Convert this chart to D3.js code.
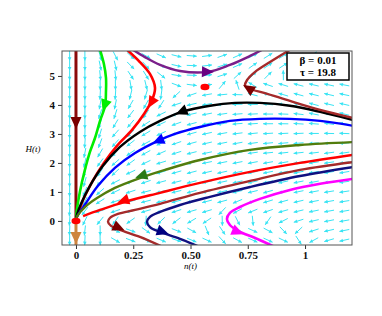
<!DOCTYPE html>
<html>
<head>
<meta charset="utf-8">
<script src="https://cdn.jsdelivr.net/npm/d3@7"></script>
<style>
body { margin: 0; background: #fff; }
svg { display: block; }
</style>
</head>
<body>
<div id="chart"></div>
<script>
// phase portrait n(t), H(t)
var width = 382, height = 316;
var margin = {top: 51, left: 62, right: 30, bottom: 71};

var xDomain = [-0.061, 1.205];
var yDomain = [-0.83, 5.86];
var xTicks = [0, 0.25, 0.5, 0.75, 1];
var xTickLabels = ['0', '0.25', '0.50', '0.75', '1'];
var yTicks = [0, 1, 2, 3, 4, 5];
var paramLabels = ['\u03b2 = 0.01', '\u03c4 = 19.8'];
var equilibria = [[0, 0], [0.563, 4.62]];

// trajectories, listed in the direction of motion
var maroonPath = [[0, 5.9], [0, 0.05]];
var orangePath = [[0, -0.1], [0, -0.9]];
var greenPath = [[0.105, 5.9], [0.122, 5.41], [0.131, 4.93], [0.131, 4.48], [0.127, 3.97], [0.105, 3.45],
  [0.083, 2.86], [0.061, 2.38], [0.039, 1.76], [0.017, 1.0], [0.004, 0.38], [0, 0.07]];
var redTopPath = [[0.223, 5.9], [0.279, 5.48], [0.323, 5.07], [0.345, 4.59], [0.332, 4.17], [0.297, 3.69],
  [0.245, 3.14], [0.179, 2.59], [0.122, 2.0], [0.070, 1.34], [0.031, 0.72], [0.009, 0.24], [0, 0.07]];
var blackPath = [[1.21, 3.48], [1.066, 3.76], [0.934, 3.97], [0.803, 4.07], [0.694, 4.07], [0.585, 3.97],
  [0.463, 3.76], [0.367, 3.45], [0.279, 3.07], [0.192, 2.55], [0.118, 1.90], [0.061, 1.21], [0.022, 0.59],
  [0.004, 0.21], [0, 0.07]];
var bluePath = [[1.21, 3.28], [1.066, 3.45], [0.934, 3.52], [0.803, 3.52], [0.672, 3.45], [0.541, 3.24],
  [0.432, 3.0], [0.358, 2.76], [0.258, 2.34], [0.170, 1.83], [0.096, 1.21], [0.044, 0.62], [0.009, 0.21], [0, 0.07]];
var olivePath = [[1.21, 2.72], [0.978, 2.62], [0.760, 2.45], [0.541, 2.10], [0.389, 1.76], [0.279, 1.48],
  [0.170, 1.14], [0.092, 0.79], [0.039, 0.48], [0.009, 0.21], [0, 0.07]];
var redLowPath = [[1.21, 2.28], [0.978, 2.0], [0.760, 1.69], [0.541, 1.31], [0.367, 0.97], [0.214, 0.66],
  [0.105, 0.38], [0.031, 0.17]];
var brownLowPath = [[1.21, 2.03], [0.978, 1.76], [0.760, 1.38], [0.541, 0.97], [0.367, 0.59], [0.258, 0.38],
  [0.183, 0.24], [0.148, 0.10], [0.140, -0.03], [0.153, -0.17], [0.192, -0.31], [0.279, -0.55], [0.380, -0.9]];
var navyPath = [[1.21, 1.86], [0.978, 1.55], [0.760, 1.17], [0.585, 0.83], [0.454, 0.55], [0.367, 0.31],
  [0.323, 0.14], [0.310, -0.03], [0.323, -0.21], [0.367, -0.38], [0.454, -0.62], [0.541, -0.9]];
var magentaPath = [[1.21, 1.45], [1.066, 1.28], [0.934, 1.07], [0.803, 0.76], [0.716, 0.48], [0.672, 0.28],
  [0.659, 0.07], [0.672, -0.14], [0.707, -0.34], [0.782, -0.59], [0.869, -0.9]];
var purplePath = [[0.249, 5.9], [0.301, 5.65], [0.367, 5.38], [0.454, 5.17], [0.576, 5.14], [0.672, 5.38],
  [0.760, 5.69], [0.812, 5.9]];
var brownTopPath = [[1.21, 3.55], [1.066, 3.83], [0.934, 4.14], [0.825, 4.41], [0.760, 4.55], [0.738, 4.66],
  [0.747, 4.86], [0.782, 5.14], [0.847, 5.48], [0.934, 5.9]];

// where each trajectory carries its arrow head
var arrowAt = {
  maroon: [0, 3.38], orange: [0, -0.59], green: [0.125, 3.97], redTop: [0.328, 4.07],
  black: [0.459, 3.76], blue: [0.358, 2.76], olive: [0.284, 1.55], redLow: [0.205, 0.69],
  brownLow: [0.188, -0.24], navy: [0.380, -0.38], magenta: [0.707, -0.38], purple: [0.576, 5.14],
  brownTop: [0.752, 4.58]
};

var trajectories = [
  {name: 'maroon', pts: maroonPath, color: '#8b0a0a', head: '#7a0000', w: 3},
  {name: 'orange', pts: orangePath, color: '#cd853f', head: '#cd853f', w: 3},
  {name: 'green', pts: greenPath, color: '#00ee00', head: '#00ee00', w: 2.6},
  {name: 'redTop', pts: redTopPath, color: '#ff0000', head: '#ff0000', w: 2.6},
  {name: 'black', pts: blackPath, color: '#000000', head: '#000000', w: 2.4},
  {name: 'blue', pts: bluePath, color: '#0000ff', head: '#0000ff', w: 2.4},
  {name: 'olive', pts: olivePath, color: '#527c0c', head: '#2a7a14', w: 2.4},
  {name: 'redLow', pts: redLowPath, color: '#ff0000', head: '#ff0000', w: 2.4},
  {name: 'brownLow', pts: brownLowPath, color: '#a52a2a', head: '#7a0000', w: 2.4},
  {name: 'navy', pts: navyPath, color: '#101080', head: '#000080', w: 2.4},
  {name: 'magenta', pts: magentaPath, color: '#ff00ff', head: '#ff00ff', w: 2.6},
  {name: 'purple', pts: purplePath, color: '#7b1f8a', head: '#6a0080', w: 2.4},
  {name: 'brownTop', pts: brownTopPath, color: '#a52a2a', head: '#7a0000', w: 2.4}
];

var innerW = width - margin.left - margin.right;
var innerH = height - margin.top - margin.bottom;

var x = d3.scaleLinear().domain(xDomain).range([0, innerW]);
var y = d3.scaleLinear().domain(yDomain).range([innerH, 0]);

var svg = d3.select('#chart').append('svg')
    .attr('width', width)
    .attr('height', height)
    .style('font-family', '"Liberation Serif", "DejaVu Serif", serif');

svg.append('defs').append('clipPath').attr('id', 'plotClip')
  .append('rect').attr('width', innerW).attr('height', innerH);

var g = svg.append('g')
    .attr('transform', 'translate(' + margin.left + ',' + margin.top + ')');

// direction field, taken from the drawn trajectories (pixel space)
var segs = [];
trajectories.forEach(function(t) {
  for (var i = 0; i < t.pts.length - 1; i++) {
    var x1 = x(t.pts[i][0]), y1 = y(t.pts[i][1]);
    var x2 = x(t.pts[i + 1][0]), y2 = y(t.pts[i + 1][1]);
    var len = Math.hypot(x2 - x1, y2 - y1) || 1;
    segs.push({x1: x1, y1: y1, x2: x2, y2: y2, ux: (x2 - x1) / len, uy: (y2 - y1) / len, len: len});
  }
});

function segDist(s, px, py) {
  var t = ((px - s.x1) * (s.x2 - s.x1) + (py - s.y1) * (s.y2 - s.y1)) / (s.len * s.len);
  t = Math.max(0, Math.min(1, t));
  var cx = s.x1 + t * (s.x2 - s.x1), cy = s.y1 + t * (s.y2 - s.y1);
  return Math.hypot(px - cx, py - cy);
}

function fieldDir(px, py) {
  var sx = 0, sy = 0;
  segs.forEach(function(s) {
    var d = segDist(s, px, py);
    var wgt = s.len / Math.pow(d * d + 9, 2);
    sx += wgt * s.ux;
    sy += wgt * s.uy;
  });
  var l = Math.hypot(sx, sy) || 1;
  return [sx / l, sy / l];
}

var nx = 19, ny = 20;
var cells = [];
for (var i = 0; i < nx; i++) {
  for (var j = 0; j < ny; j++) {
    var cx = (i + 0.5) * innerW / nx;
    var cy = (j + 0.5) * innerH / ny;
    var d = fieldDir(cx, cy);
    cells.push({cx: cx, cy: cy, dx: d[0], dy: d[1]});
  }
}

var aLen = 10;
var fieldColor = '#38e4f4';
var field = g.append('g').attr('class', 'field');
field.selectAll('line')
  .data(cells)
  .enter()
  .append('line')
    .attr('x1', function(c) { return c.cx - c.dx * aLen / 2; })
    .attr('y1', function(c) { return c.cy - c.dy * aLen / 2; })
    .attr('x2', function(c) { return c.cx + c.dx * aLen / 2; })
    .attr('y2', function(c) { return c.cy + c.dy * aLen / 2; })
    .attr('stroke', fieldColor)
    .attr('stroke-width', 1);
field.selectAll('path')
  .data(cells)
  .enter()
  .append('path')
    .attr('d', function(c) {
      var tx = c.cx + c.dx * aLen / 2, ty = c.cy + c.dy * aLen / 2;
      var bx = tx - c.dx * 3.5, by = ty - c.dy * 3.5;
      return 'M' + tx + ',' + ty + 'L' + (bx - c.dy * 1.8) + ',' + (by + c.dx * 1.8) +
        'L' + (bx + c.dy * 1.8) + ',' + (by - c.dx * 1.8) + 'Z';
    })
    .attr('fill', fieldColor);

// trajectories
var line = d3.line()
    .x(function(d) { return x(d[0]); })
    .y(function(d) { return y(d[1]); })
    .curve(d3.curveCatmullRom.alpha(0.5));

var curves = g.append('g').attr('clip-path', 'url(#plotClip)');
curves.selectAll('path.traj')
  .data(trajectories)
  .enter()
  .append('path')
    .attr('class', 'traj')
    .attr('d', function(t) { return line(t.pts); })
    .attr('fill', 'none')
    .attr('stroke', function(t) { return t.color; })
    .attr('stroke-width', function(t) { return t.w; })
    .attr('stroke-linejoin', 'round');

// arrow heads along each trajectory, direction from nearest segment
function headDir(t) {
  var p = arrowAt[t.name];
  var px = x(p[0]), py = y(p[1]);
  var best = null, bd = Infinity;
  for (var i = 0; i < t.pts.length - 1; i++) {
    var s = {x1: x(t.pts[i][0]), y1: y(t.pts[i][1]), x2: x(t.pts[i + 1][0]), y2: y(t.pts[i + 1][1])};
    s.len = Math.hypot(s.x2 - s.x1, s.y2 - s.y1) || 1;
    var dd = segDist(s, px, py);
    if (dd < bd) { bd = dd; best = s; }
  }
  return [px, py, (best.x2 - best.x1) / best.len, (best.y2 - best.y1) / best.len];
}

curves.selectAll('path.head')
  .data(trajectories)
  .enter()
  .append('path')
    .attr('class', 'head')
    .attr('d', function(t) {
      var h = headDir(t);
      var px = h[0], py = h[1], ux = h[2], uy = h[3];
      var tx = px + ux * 6, ty = py + uy * 6;
      var bx = px - ux * 6, by = py - uy * 6;
      return 'M' + tx + ',' + ty + 'L' + (bx - uy * 5.5) + ',' + (by + ux * 5.5) +
        'L' + (bx + uy * 5.5) + ',' + (by - ux * 5.5) + 'Z';
    })
    .attr('fill', function(t) { return t.head; });

// equilibrium points
g.selectAll('ellipse')
  .data(equilibria)
  .enter()
  .append('ellipse')
    .attr('cx', function(d) { return x(d[0]); })
    .attr('cy', function(d) { return y(d[1]); })
    .attr('rx', 4.5)
    .attr('ry', 3.2)
    .attr('fill', '#ff0000');

// axes
var xAxis = g.append('g')
    .attr('transform', 'translate(0,' + innerH + ')')
    .call(d3.axisBottom(x).tickValues(xTicks).tickSize(4).tickPadding(2)
      .tickFormat(function(d, i) { return xTickLabels[i]; }));
var yAxis = g.append('g')
    .call(d3.axisLeft(y).tickValues(yTicks).tickSize(4).tickFormat(d3.format('d')));
[xAxis, yAxis].forEach(function(a) {
  a.select('.domain').remove();
  a.selectAll('line').attr('stroke', '#333');
  a.selectAll('text')
    .attr('fill', '#111')
    .style('font-family', '"Liberation Serif", serif')
    .style('font-size', '11px')
    .style('font-weight', 'bold');
});

g.append('rect')
    .attr('width', innerW)
    .attr('height', innerH)
    .attr('fill', 'none')
    .attr('stroke', '#555')
    .attr('stroke-width', 1);

svg.append('text')
    .attr('x', margin.left + x(0.5))
    .attr('y', 269)
    .attr('text-anchor', 'middle')
    .style('font-size', '9px')
    .style('font-style', 'italic')
    .text('n(t)');
svg.append('text')
    .attr('x', 33)
    .attr('y', 152)
    .attr('text-anchor', 'middle')
    .style('font-size', '9px')
    .style('font-style', 'italic')
    .text('H(t)');

// parameter box
var box = svg.append('g').attr('transform', 'translate(287,53)');
box.append('rect')
    .attr('width', 62)
    .attr('height', 27)
    .attr('fill', '#fff')
    .attr('stroke', '#000')
    .attr('stroke-width', 1.5);
box.selectAll('text')
  .data(paramLabels)
  .enter()
  .append('text')
    .attr('x', 31)
    .attr('y', function(d, i) { return 11 + i * 12; })
    .attr('text-anchor', 'middle')
    .style('font-size', '11px')
    .style('font-weight', 'bold')
    .text(function(d) { return d; });
</script>
</body>
</html>
